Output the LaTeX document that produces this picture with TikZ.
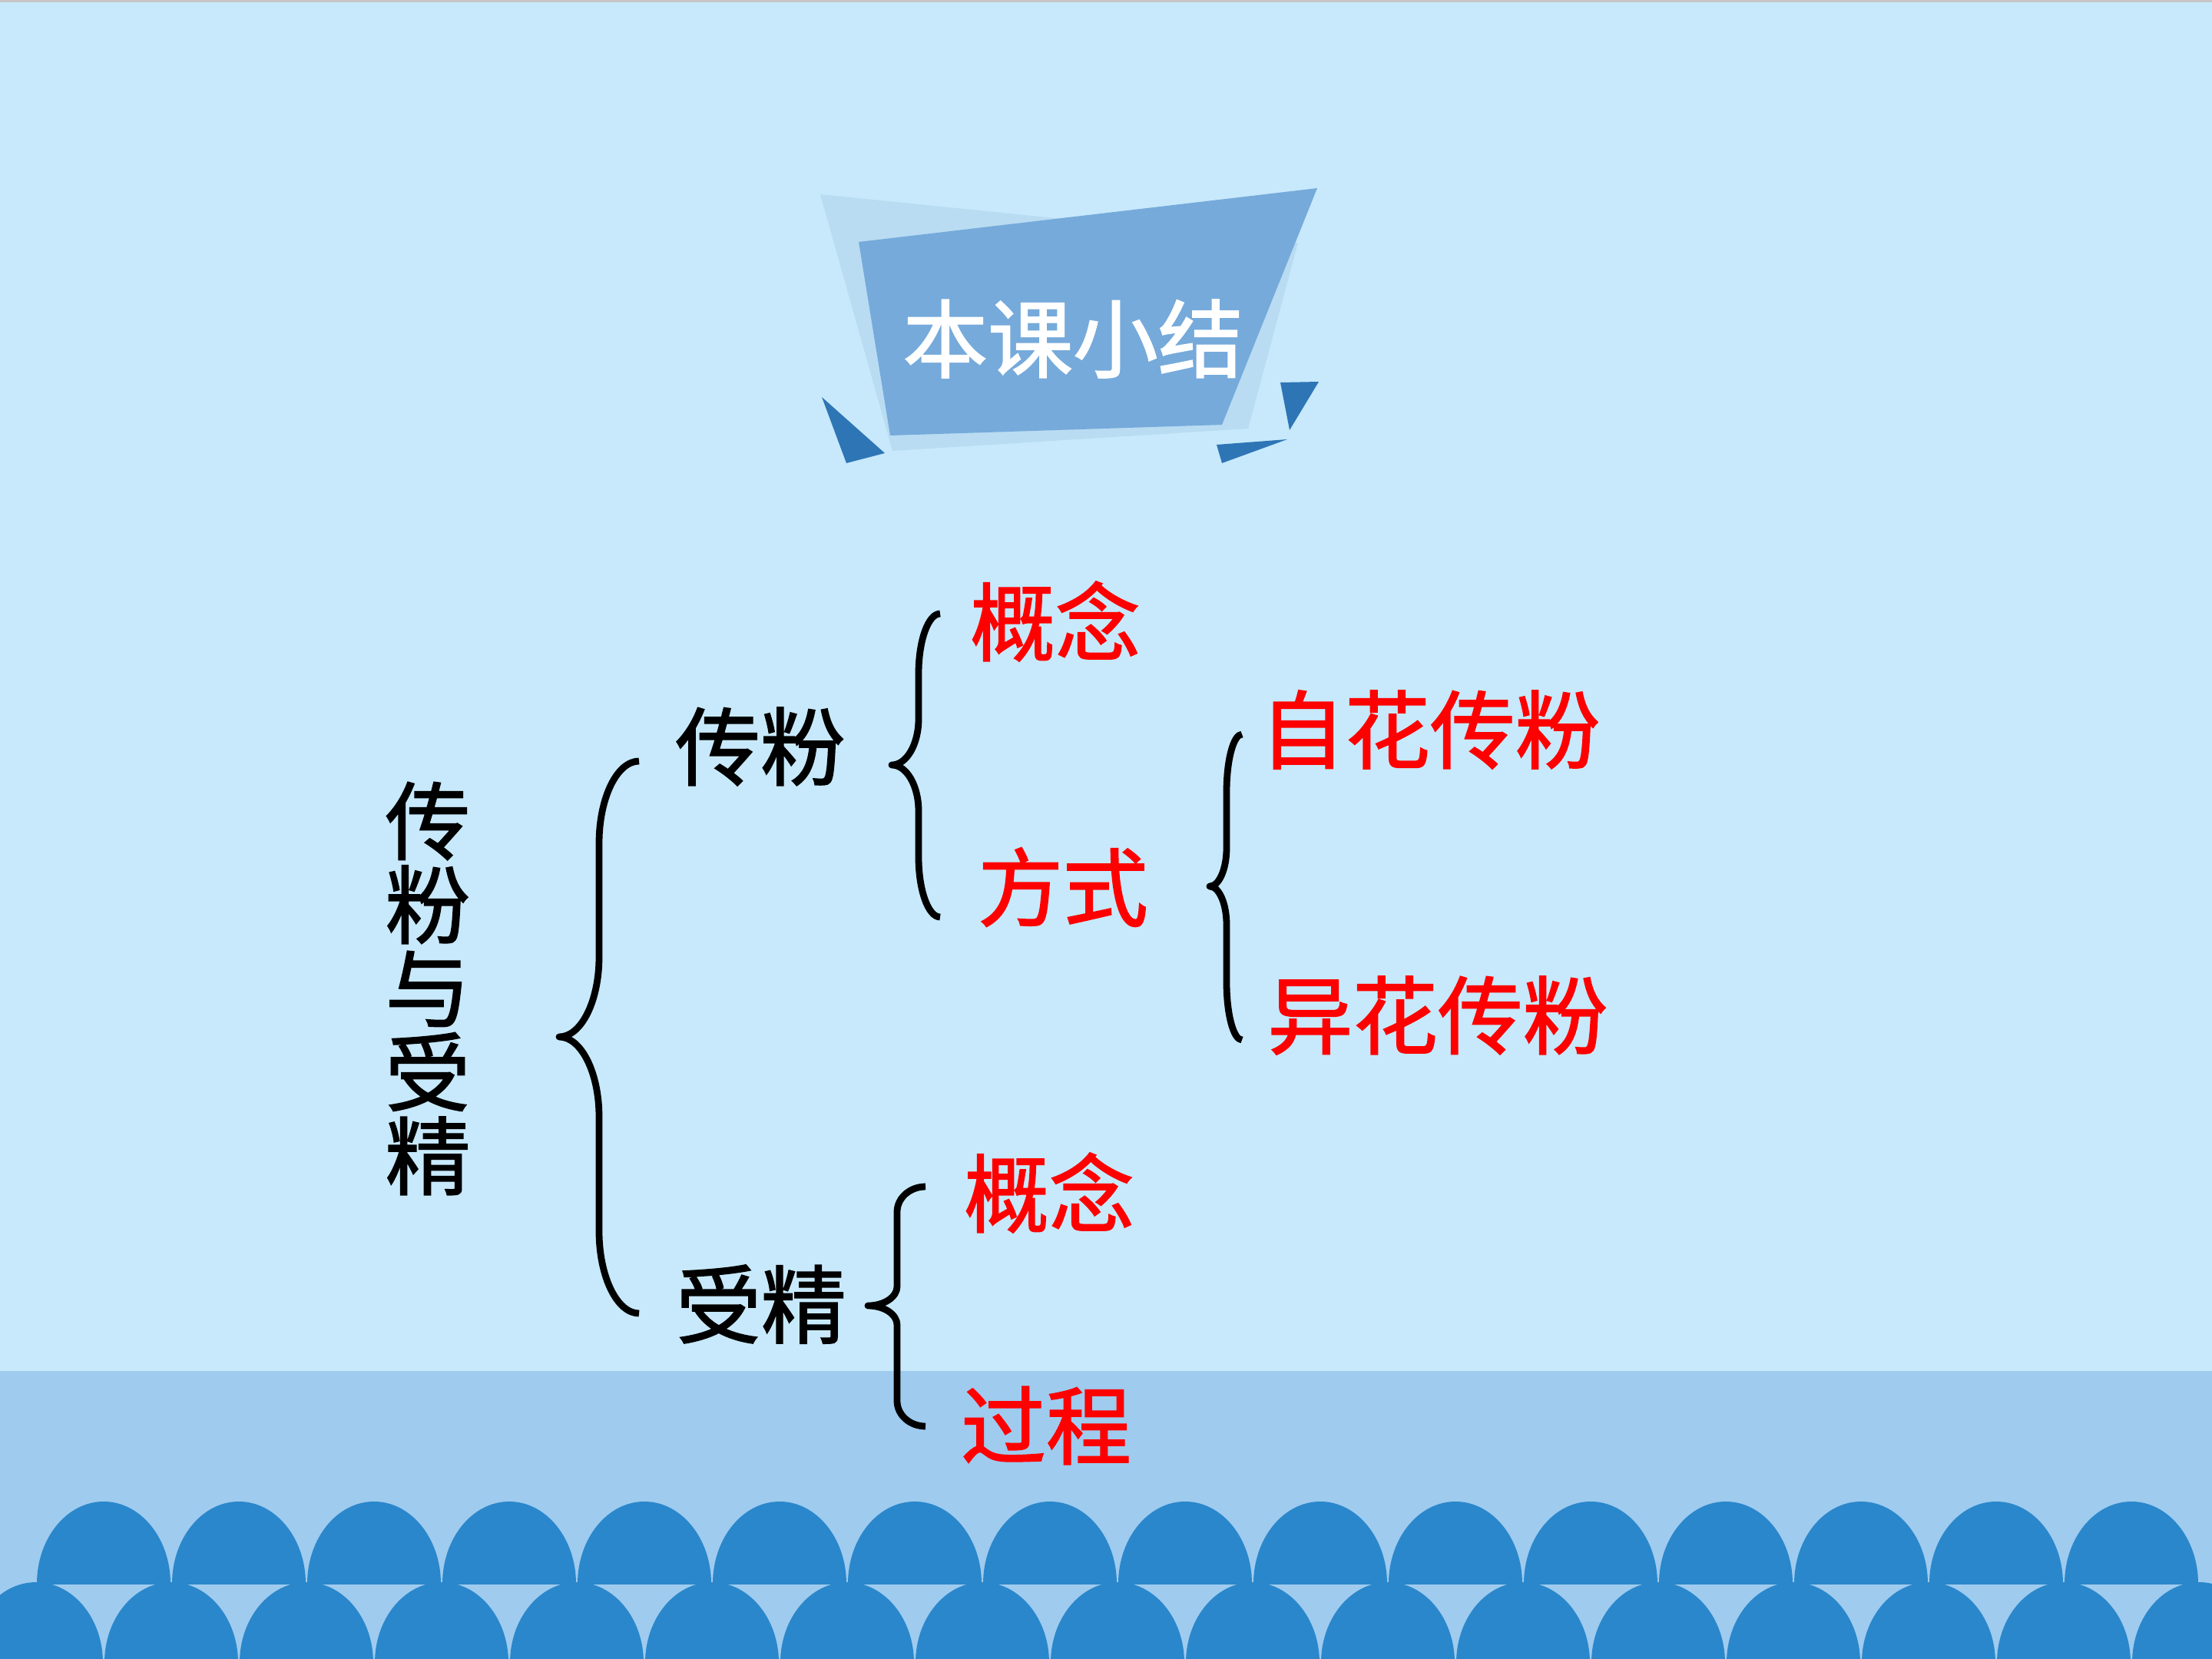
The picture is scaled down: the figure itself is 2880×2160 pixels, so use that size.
\documentclass[tikz,border=0pt]{standalone}
\usepackage{fontspec}
\setmainfont{Noto Sans CJK SC}[FakeBold=1.6]
\usetikzlibrary{calc}
\definecolor{bg}{HTML}{C7E9FB}
\definecolor{band}{HTML}{9FCBEF}
\definecolor{wave}{HTML}{2A87CB}
\definecolor{bannerdark}{HTML}{76AADB}
\definecolor{bannerlight}{HTML}{B9DCF2}
\definecolor{tri}{HTML}{2E75B6}
\definecolor{redtxt}{HTML}{FF0000}
\tikzset{
  lbl/.style={inner sep=0pt, font=\fontsize{31.5}{31}\selectfont},
  blk/.style={lbl, text=black},
  rd/.style={lbl, text=redtxt},
  bracestyle/.style={line width=2.5pt, line join=round, draw=black},
}
% #1 x of ends, #2 x of vertical, #3 x of tip, #4 y top, #5 y tip, #6 y bottom, #7 end-curve height, #8 tip-curve height
\newcommand\mybrace[8]{%
  \draw[bracestyle] (#1,#4) .. controls ({#2+0.448*(#1-#2)},#4) and (#2,{#4+0.448*#7}) .. (#2,{#4+#7})
    -- (#2,{#5-#8}) .. controls (#2,{#5-0.448*#8}) and ({#3+0.552*(#2-#3)},#5) .. (#3,#5)
    .. controls ({#3+0.552*(#2-#3)},#5) and (#2,{#5+0.448*#8}) .. (#2,{#5+#8})
    -- (#2,{#6-#7}) .. controls (#2,{#6-0.448*#7}) and ({#2+0.448*(#1-#2)},#6) .. (#1,#6);}
\begin{document}
\begin{tikzpicture}[x=0.01cm,y=-0.01cm]
\useasboundingbox (0,0) rectangle (2880,2160);
% background
\fill[bg] (0,0) rectangle (2880,2160);
\fill[gray!45] (0,0) rectangle (2880,3);
\fill[band] (0,1785) rectangle (2880,2160);
% waves
\begin{scope}
  \clip (0,0) rectangle (2880,2062);
  \foreach \k in {0,...,15} \fill[wave] ({135+176*\k},2062) ellipse [x radius=87, y radius=107];
\end{scope}
\begin{scope}
  \clip (0,0) rectangle (2880,2160);
  \foreach \k in {0,...,16} \fill[wave] ({47+176*\k},2165) ellipse [x radius=87, y radius=105];
\end{scope}
% banner
\fill[bannerlight] (1068,253) -- (1690,316) -- (1625,558) -- (1162,587) -- cycle;
\fill[bannerdark] (1118,315) -- (1715,245) -- (1591,553) -- (1159,567) -- cycle;
\fill[tri] (1070,517) -- (1152,590) -- (1102,603) -- cycle;
\fill[tri] (1667,498) -- (1717,497) -- (1679,560) -- cycle;
\fill[tri] (1584,579) -- (1676,572) -- (1591,603) -- cycle;
\node[lbl, text=white] (title) at (1397,441) {本课小结};
% texts
\node[blk, align=center] (topic) at (557,1287) {传\\粉\\与\\受\\精};
\node[blk] (cf) at (990,972) {传粉};
\node[blk] (sj) at (991,1698) {受精};
\node[rd] (gn1) at (1374,809) {概念};
\node[rd] (fs) at (1384,1155) {方式};
\node[rd] (zh) at (1862,950) {自花传粉};
\node[rd] (yh) at (1872,1322) {异花传粉};
\node[rd] (gn2) at (1366,1553) {概念};
\node[rd] (gc) at (1362,1856) {过程};
% braces
\mybrace{832}{780}{728}{991}{1350}{1710}{107}{104}
\mybrace{1224}{1196}{1161}{799}{996}{1194}{78}{60}
\mybrace{1617}{1597}{1575}{956}{1154}{1354}{75}{50}
\mybrace{1205}{1168}{1130}{1545}{1700}{1857}{33}{25}
\end{tikzpicture}
\end{document}
